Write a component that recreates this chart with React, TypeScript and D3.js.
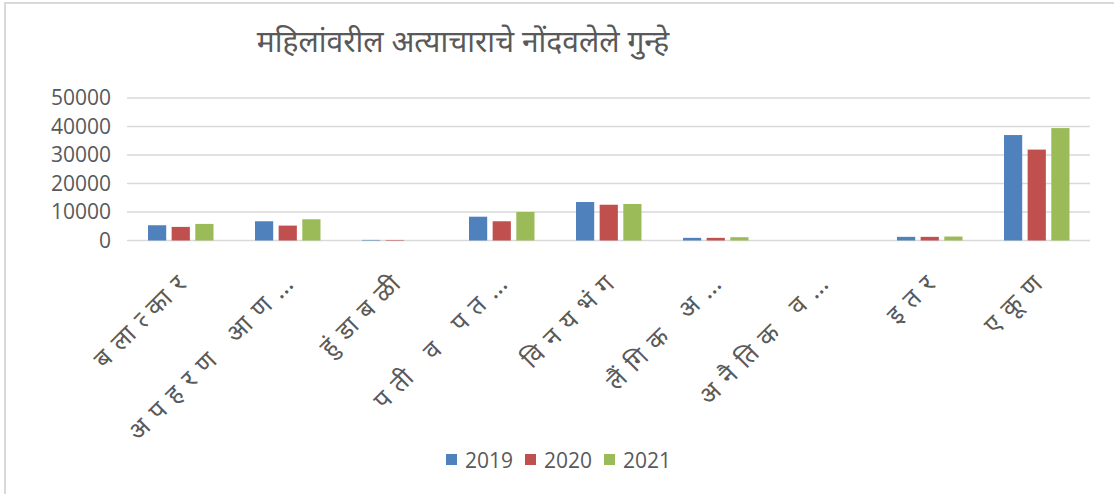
import React from 'react';
import * as d3 from 'd3';

const categories = ["बलात्कार", "अपहरण आण…", "हुंडाबळी", "पती व पत…", "विनयभंग", "लैंगिक अ…", "अनैतिक व…", "इतर", "एकूण"];
const seriesNames = ["2019", "2020", "2021"];
const values2019 = [5350, 6750, 200, 8350, 13500, 930, 0, 1280, 37000];
const values2020 = [4770, 5230, 190, 6750, 12550, 930, 0, 1280, 31900];
const values2021 = [5820, 7450, 0, 10000, 12800, 1160, 0, 1400, 39450];
const yTicks = [0, 10000, 20000, 30000, 40000, 50000];
const colors = ["#4f81bd", "#c0504d", "#9bbb59"];
const title = "महिलांवरील अत्याचाराचे नोंदवलेले गुन्हे";

const W = 1114, H = 494;
const left = 127, right = 1090, top = 98, bottom = 240.5;
const latin = "'Open Sans', 'Noto Sans', sans-serif";
const deva = "'Noto Sans Devanagari', 'Lohit Devanagari', 'FreeSans', 'Noto Sans', sans-serif";
const textColor = "#595959";

export default function App() {
  const seriesValues = [values2019, values2020, values2021];
  const x0 = d3.scaleBand<string>().domain(categories).range([left, right]).paddingInner(0).paddingOuter(0);
  const x1 = d3.scaleBand<string>().domain(seriesNames).range([21, x0.bandwidth() - 20.5]).paddingInner(0.23).paddingOuter(0);
  const y = d3.scaleLinear().domain([0, 50000]).range([bottom, top]);

  return (
    <svg width={W} height={H} style={{ position: 'absolute', left: 0, top: 0, background: '#fff' }}>
      <rect x={0} y={0} width={W} height={H} fill="#fff" />
      <line x1={4} x2={W} y1={3} y2={3} stroke="#d9d9d9" strokeWidth={2} />
      <line x1={5} x2={5} y1={3} y2={H} stroke="#d9d9d9" strokeWidth={2} />
      <text x={463} y={52} textAnchor="middle" fontFamily={deva} fontSize={30} fill={textColor}>{title}</text>
      {yTicks.map(t => (
        <g key={t}>
          <line x1={left} x2={right} y1={y(t)} y2={y(t)} stroke="#d9d9d9" strokeWidth={1.3} />
          <text x={111} y={y(t)} dy="0.35em" textAnchor="end" fontFamily={latin} fontSize={21} fill={textColor}>{t}</text>
        </g>
      ))}
      {categories.map((c, i) => (
        <g key={c} transform={`translate(${x0(c)},0)`}>
          {seriesNames.map((s, j) => {
            const v = seriesValues[j][i];
            return <rect key={s} x={x1(s)} width={x1.bandwidth()} y={y(v)} height={y(0) - y(v)} fill={colors[j]} />;
          })}
        </g>
      ))}
      {categories.map(c => {
        const cx = (x0(c) as number) + x0.bandwidth() / 2 + 14;
        const cy = 279;
        return (
          <text key={c} transform={`translate(${cx},${cy}) rotate(-45)`} textAnchor="end" fontFamily={deva} fontSize={25} fill={textColor} style={{ letterSpacing: '9.5px' }}>{c}</text>
        );
      })}
      {seriesNames.map((s, j) => {
        const lx = 446 + j * 79;
        return (
          <g key={s}>
            <rect x={lx} y={454} width={11} height={11} fill={colors[j]} />
            <text x={lx + 19} y={467.5} fontFamily={latin} fontSize={21} fill={textColor}>{s}</text>
          </g>
        );
      })}
    </svg>
  );
}
